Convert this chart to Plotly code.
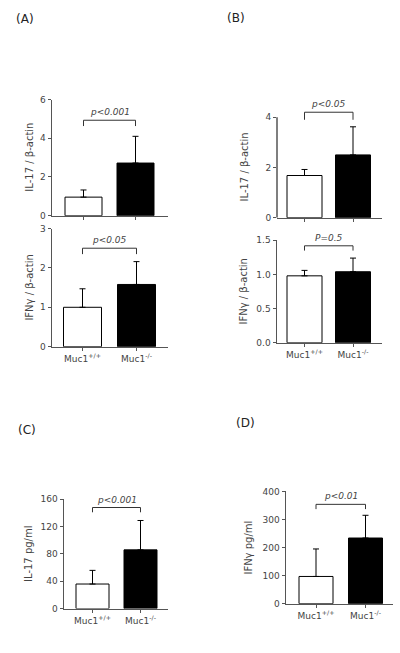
import plotly.graph_objects as go

# ---------------- data ----------------
groups = ["Muc1<sup>+/+</sup>", "Muc1<sup>-/-</sup>"]

a_il17_mean = [0.96, 2.72]
a_il17_sd = [0.37, 1.38]
a_ifng_mean = [1.00, 1.58]
a_ifng_sd = [0.47, 0.58]

b_il17_mean = [1.68, 2.50]
b_il17_sd = [0.24, 1.12]
b_ifng_mean = [0.98, 1.04]
b_ifng_sd = [0.08, 0.20]

c_il17_mean = [36, 86]
c_il17_sd = [20, 43]

d_ifng_mean = [97, 234]
d_ifng_sd = [98, 81]

p_labels = ["p<0.001", "p<0.05", "p<0.05", "P=0.5", "p<0.001", "p<0.01"]
bracket_y = [4.93, 2.5, 4.2, 1.42, 148, 354]
bracket_drop = [0.3, 0.15, 0.3, 0.07, 7, 17]

y_titles = ["IL-17 / β-actin", "IFNγ / β-actin", "IL-17 / β-actin",
            "IFNγ / β-actin", "IL-17 pg/ml", "IFNγ pg/ml"]
panel_letters = ["(A)", "(B)", "(C)", "(D)"]

means = [a_il17_mean, a_ifng_mean, b_il17_mean, b_ifng_mean, c_il17_mean, d_ifng_mean]
sds = [a_il17_sd, a_ifng_sd, b_il17_sd, b_ifng_sd, c_il17_sd, d_ifng_sd]

# ---------------- layout (pixels) ----------------
W, H = 400, 653
panels = [
    dict(l=52, r=168, c0=83.5, c1=135.5, bw=37, top=96, bot=214, ymax=6, rtop=6, dt=2, lab=False, toff=22, fmt=""),
    dict(l=52, r=168, c0=82.5, c1=136.5, bw=38, top=227, bot=347, ymax=3, rtop=3, dt=1, lab=True, toff=22, fmt=""),
    dict(l=277, r=382, c0=304.5, c1=353, bw=35, top=114, bot=216, ymax=4, rtop=4.6, dt=2, lab=False, toff=33, fmt=""),
    dict(l=277, r=382, c0=304.5, c1=353, bw=35, top=239, bot=343, ymax=1.5, rtop=1.5, dt=0.5, lab=True, toff=33, fmt=".1f"),
    dict(l=64, r=168, c0=92.5, c1=140.5, bw=33, top=502, bot=613, ymax=160, rtop=160, dt=40, lab=True, toff=35, fmt=""),
    dict(l=286, r=393, c0=316, c1=365.5, bw=34, top=494, bot=608, ymax=400, rtop=400, dt=100, lab=True, toff=37, fmt=""),
]

AX = "#555555"
TXT = "#444444"
FONT = "DejaVu Sans"

fig = go.Figure()
shapes = []
annotations = []
layout = dict(
    width=W, height=H, margin=dict(l=0, r=0, t=0, b=0),
    paper_bgcolor="white", plot_bgcolor="white", showlegend=False,
    font=dict(family=FONT, color=TXT, size=9),
)

for i, p in enumerate(panels):
    n = i + 1
    xa = "x" if n == 1 else f"x{n}"
    ya = "y" if n == 1 else f"y{n}"
    xkey = "xaxis" if n == 1 else f"xaxis{n}"
    ykey = "yaxis" if n == 1 else f"yaxis{n}"
    sp = p["c1"] - p["c0"]
    x0 = -(p["c0"] - p["l"]) / sp
    x1 = 1 + (p["r"] - p["c1"]) / sp
    scale = (p["bot"] - p["top"]) / p["ymax"]
    top_px = p["bot"] - p["rtop"] * scale

    fig.add_trace(go.Bar(
        x=[0, 1], y=means[i], width=p["bw"] / sp,
        marker=dict(color=["white", "black"], line=dict(color="black", width=1)),
        error_y=dict(type="data", symmetric=False, array=sds[i],
                     arrayminus=[0, 0], color="black", thickness=1, width=3),
        xaxis=xa, yaxis=ya, hoverinfo="skip",
    ))

    layout[xkey] = dict(
        domain=[p["l"] / W, p["r"] / W], range=[x0, x1], anchor=ya,
        tickvals=[0, 1], ticktext=groups, showticklabels=p["lab"],
        ticks="outside", ticklen=3, tickwidth=1, tickcolor=AX,
        showline=True, linecolor=AX, linewidth=1.5, showgrid=False, zeroline=False,
        tickfont=dict(size=9, color=TXT, family=FONT), fixedrange=True,
    )
    layout[ykey] = dict(
        domain=[1 - p["bot"] / H, 1 - top_px / H], range=[0, p["rtop"]], anchor=xa,
        tickmode="linear", tick0=0, dtick=p["dt"], tickformat=p["fmt"],
        ticks="outside", ticklen=3, tickwidth=1, tickcolor=AX,
        showline=(p["rtop"] == p["ymax"]), linecolor=AX, linewidth=1.5,
        showgrid=False, zeroline=False,
        tickfont=dict(size=9, color=TXT, family=FONT), fixedrange=True,
    )
    if p["rtop"] != p["ymax"]:
        shapes.append(dict(type="line", xref=f"{xa} domain", yref=ya,
                           x0=0, x1=0, y0=0, y1=p["ymax"],
                           line=dict(color=AX, width=1.5)))

    # significance bracket
    by, bd = bracket_y[i], bracket_drop[i]
    shapes.append(dict(type="path", xref=xa, yref=ya,
                       path=f"M 0,{by - bd} L 0,{by} L 1,{by} L 1,{by - bd}",
                       line=dict(color="#333333", width=1)))
    annotations.append(dict(x=0.5, y=by, xref=xa, yref=ya, text=f"<i>{p_labels[i]}</i>",
                            showarrow=False, yanchor="bottom", yshift=1,
                            font=dict(size=9, color=TXT, family=FONT)))
    # y-axis title
    annotations.append(dict(x=0, y=0.5 * p["ymax"], xref=f"{xa} domain", yref=ya,
                            text=y_titles[i], textangle=-90, showarrow=False,
                            xanchor="center", yanchor="middle", xshift=-p["toff"],
                            font=dict(size=10, color=TXT, family=FONT)))

letter_pos = [(25, 14), (236, 13), (27, 432), (245, 425)]
for t, (px, py) in zip(panel_letters, letter_pos):
    annotations.append(dict(x=px / W, y=1 - py / H, xref="paper", yref="paper", text=t,
                            showarrow=False, xanchor="center", yanchor="middle",
                            font=dict(size=12, color="#222222", family=FONT)))

layout["shapes"] = shapes
layout["annotations"] = annotations
fig.update_layout(**layout)
fig.write_html("out.html", config={"displayModeBar": False, "staticPlot": True},
               post_script="document.body.style.margin='0';document.body.style.overflow='hidden';")
